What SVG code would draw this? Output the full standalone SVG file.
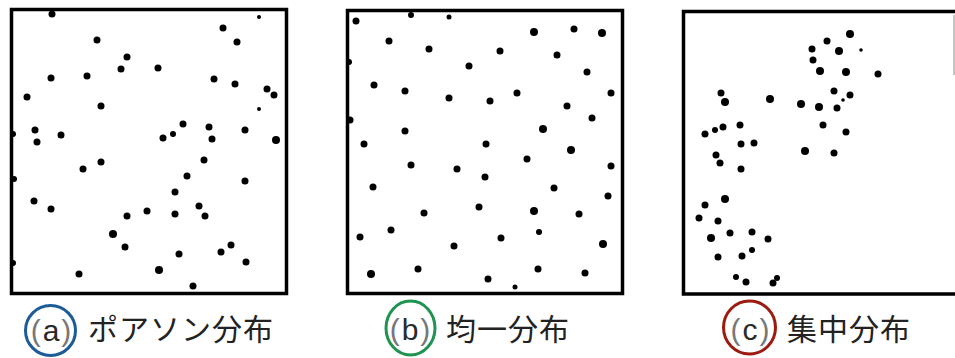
<svg xmlns="http://www.w3.org/2000/svg" width="955" height="358" viewBox="0 0 955 358">
<style>
.box{fill:none;stroke:#000;stroke-width:3.5}
.d{fill:#000}
.lbl{font-family:"Liberation Sans",sans-serif;font-size:30px;fill:#2a2a2a;text-anchor:middle}
.p{fill:#777}
.jp{font-family:"Noto Sans CJK JP",sans-serif;font-size:30px;fill:#222;letter-spacing:1px}
.ring{fill:none;stroke-width:3}
</style>
<rect width="955" height="358" fill="#fff"/>
<g id="panel-a">
<rect class="box" x="11.5" y="9.5" width="275" height="284"/>
<g class="d">
<circle cx="52" cy="14" r="3.5"/><circle cx="259" cy="17" r="2"/><circle cx="223" cy="28" r="3.5"/><circle cx="97" cy="40" r="3.5"/>
<circle cx="237" cy="42" r="3.5"/><circle cx="127" cy="57" r="3.5"/><circle cx="121" cy="69" r="3.5"/><circle cx="158" cy="68" r="3.5"/>
<circle cx="51" cy="78" r="3.5"/><circle cx="87" cy="76" r="3.5"/><circle cx="214" cy="79" r="3.5"/><circle cx="235" cy="84" r="3.5"/>
<circle cx="27" cy="97" r="3.5"/><circle cx="267" cy="89" r="3.5"/><circle cx="274" cy="95" r="3.5"/><circle cx="101" cy="106" r="3.5"/>
<circle cx="259" cy="109" r="2"/><circle cx="183" cy="124" r="3.5"/><circle cx="209" cy="127" r="3.5"/><circle cx="245" cy="130" r="3.5"/>
<circle cx="35" cy="130" r="3.5"/><circle cx="13" cy="134" r="3"/><circle cx="37" cy="142" r="3.5"/><circle cx="61" cy="135" r="3.5"/>
<circle cx="163" cy="138" r="3.5"/><circle cx="173" cy="134" r="3"/><circle cx="212" cy="139" r="3.5"/><circle cx="276" cy="140" r="4"/>
<circle cx="204" cy="160" r="3.5"/><circle cx="101" cy="162" r="3.5"/><circle cx="83" cy="169" r="3.5"/><circle cx="14" cy="179" r="3"/>
<circle cx="187" cy="176" r="3.5"/><circle cx="245" cy="181" r="3.5"/><circle cx="175" cy="192" r="3.5"/><circle cx="34" cy="201" r="3.5"/>
<circle cx="51" cy="209" r="3.5"/><circle cx="147" cy="211" r="3.5"/><circle cx="199" cy="206" r="3.5"/><circle cx="175" cy="214" r="3.5"/>
<circle cx="205" cy="216" r="3.5"/><circle cx="127" cy="216" r="3.5"/><circle cx="113" cy="234" r="4"/><circle cx="125" cy="247" r="3.5"/>
<circle cx="231" cy="245" r="3.5"/><circle cx="221" cy="252" r="3.5"/><circle cx="179" cy="254" r="3.5"/><circle cx="246" cy="262" r="3.5"/>
<circle cx="13" cy="263" r="3"/><circle cx="79" cy="274" r="3.5"/><circle cx="159" cy="270" r="4"/><circle cx="193" cy="286" r="3.5"/>
</g>
</g>
<g id="panel-b">
<rect class="box" x="347.5" y="10.5" width="275" height="283"/>
<g class="d">
<circle cx="356" cy="21" r="3.5"/><circle cx="411" cy="15" r="3"/><circle cx="449" cy="17" r="2.5"/><circle cx="534" cy="32" r="4"/>
<circle cx="574" cy="29" r="3.5"/><circle cx="602" cy="33" r="4"/><circle cx="389" cy="41" r="3.5"/><circle cx="429" cy="49" r="3.5"/>
<circle cx="500" cy="51" r="3.5"/><circle cx="557" cy="55" r="3.5"/><circle cx="469" cy="66" r="3.5"/><circle cx="587" cy="72" r="3.5"/>
<circle cx="349" cy="62" r="3"/><circle cx="374" cy="85" r="3.5"/><circle cx="405" cy="91" r="3.5"/><circle cx="449" cy="98" r="3.5"/>
<circle cx="490" cy="101" r="3.5"/><circle cx="517" cy="93" r="3.5"/><circle cx="611" cy="93" r="3.5"/><circle cx="567" cy="106" r="3.5"/>
<circle cx="592" cy="118" r="3.5"/><circle cx="350" cy="120" r="3.5"/><circle cx="405" cy="131" r="3.5"/><circle cx="543" cy="129" r="4"/>
<circle cx="364" cy="144" r="3.5"/><circle cx="486" cy="144" r="3.5"/><circle cx="571" cy="150" r="4"/><circle cx="411" cy="165" r="3.5"/>
<circle cx="457" cy="169" r="3.5"/><circle cx="527" cy="159" r="3.5"/><circle cx="485" cy="177" r="3.5"/><circle cx="611" cy="166" r="3.5"/>
<circle cx="373" cy="187" r="3.5"/><circle cx="554" cy="188" r="3.5"/><circle cx="608" cy="196" r="3.5"/><circle cx="424" cy="213" r="3.5"/>
<circle cx="479" cy="207" r="3.5"/><circle cx="534" cy="211" r="4"/><circle cx="579" cy="214" r="3.5"/><circle cx="360" cy="237" r="3.5"/>
<circle cx="391" cy="230" r="3.5"/><circle cx="454" cy="246" r="3.5"/><circle cx="501" cy="238" r="3.5"/><circle cx="539" cy="232" r="3"/>
<circle cx="603" cy="244" r="4"/><circle cx="371" cy="274" r="4"/><circle cx="418" cy="269" r="3.5"/><circle cx="488" cy="279" r="3.5"/>
<circle cx="515" cy="287" r="2.5"/><circle cx="538" cy="269" r="3.5"/><circle cx="585" cy="273" r="3.5"/>
</g>
</g>
<g id="panel-c">
<path class="box" d="M958 11.5H683.5V294H958"/>
<line x1="954" y1="15" x2="954" y2="75" stroke="#888" stroke-width="1"/>
<g class="d">
<circle cx="850" cy="34" r="4"/><circle cx="827" cy="41" r="3.5"/><circle cx="812" cy="49" r="3.5"/><circle cx="839" cy="51" r="4"/>
<circle cx="861" cy="50" r="1.8"/><circle cx="813" cy="60" r="3.5"/><circle cx="820" cy="71" r="4"/><circle cx="846" cy="72" r="4"/>
<circle cx="878" cy="74" r="3.5"/><circle cx="721" cy="93" r="3.5"/><circle cx="725" cy="102" r="4"/><circle cx="770" cy="99" r="4"/>
<circle cx="801" cy="104" r="4"/><circle cx="819" cy="107" r="4"/><circle cx="834" cy="91" r="3.5"/><circle cx="850" cy="95" r="3.5"/>
<circle cx="843" cy="100" r="1.8"/><circle cx="837" cy="108" r="3.5"/><circle cx="823" cy="125" r="3.5"/><circle cx="846" cy="132" r="3.5"/>
<circle cx="805" cy="151" r="4"/><circle cx="834" cy="153" r="3.5"/><circle cx="705" cy="134" r="3.5"/><circle cx="715" cy="130" r="3"/>
<circle cx="723" cy="127" r="3.5"/><circle cx="740" cy="125" r="3.5"/><circle cx="741" cy="144" r="3.5"/><circle cx="754" cy="143" r="3.5"/>
<circle cx="716" cy="155" r="3.5"/><circle cx="720" cy="163" r="3.5"/><circle cx="741" cy="169" r="3.5"/><circle cx="725" cy="199" r="4"/>
<circle cx="705" cy="205" r="3.5"/><circle cx="699" cy="218" r="3.5"/><circle cx="718" cy="221" r="3.5"/><circle cx="711" cy="238" r="4"/>
<circle cx="730" cy="233" r="3.5"/><circle cx="752" cy="232" r="3.5"/><circle cx="768" cy="239" r="3.5"/><circle cx="718" cy="257" r="3.5"/>
<circle cx="742" cy="256" r="3.5"/><circle cx="752" cy="250" r="3"/><circle cx="736" cy="277" r="3"/><circle cx="746" cy="282" r="3.5"/>
<circle cx="773" cy="283" r="3.5"/><circle cx="777" cy="278" r="3"/>
</g>
</g>
<g id="label-a">
<ellipse class="ring" cx="50.5" cy="330.5" rx="25" ry="25" stroke="#1c5b96"/>
<text class="lbl" x="52" y="341" letter-spacing="2"><tspan class="p">(</tspan>a<tspan class="p">)</tspan></text>
<text class="jp" x="88" y="340">ポアソン分布</text>
</g>
<g id="label-b">
<ellipse class="ring" cx="410.5" cy="328" rx="24.5" ry="27" stroke="#1e9450"/>
<text class="lbl" x="411" y="340" letter-spacing="2"><tspan class="p">(</tspan>b<tspan class="p">)</tspan></text>
<text class="jp" x="446" y="340">均一分布</text>
</g>
<g id="label-c">
<ellipse class="ring" cx="749.5" cy="327.5" rx="26" ry="26.5" stroke="#9c1b10"/>
<text class="lbl" x="751" y="340" letter-spacing="2"><tspan class="p">(</tspan>c<tspan class="p">)</tspan></text>
<text class="jp" x="787" y="340">集中分布</text>
</g>
</svg>
